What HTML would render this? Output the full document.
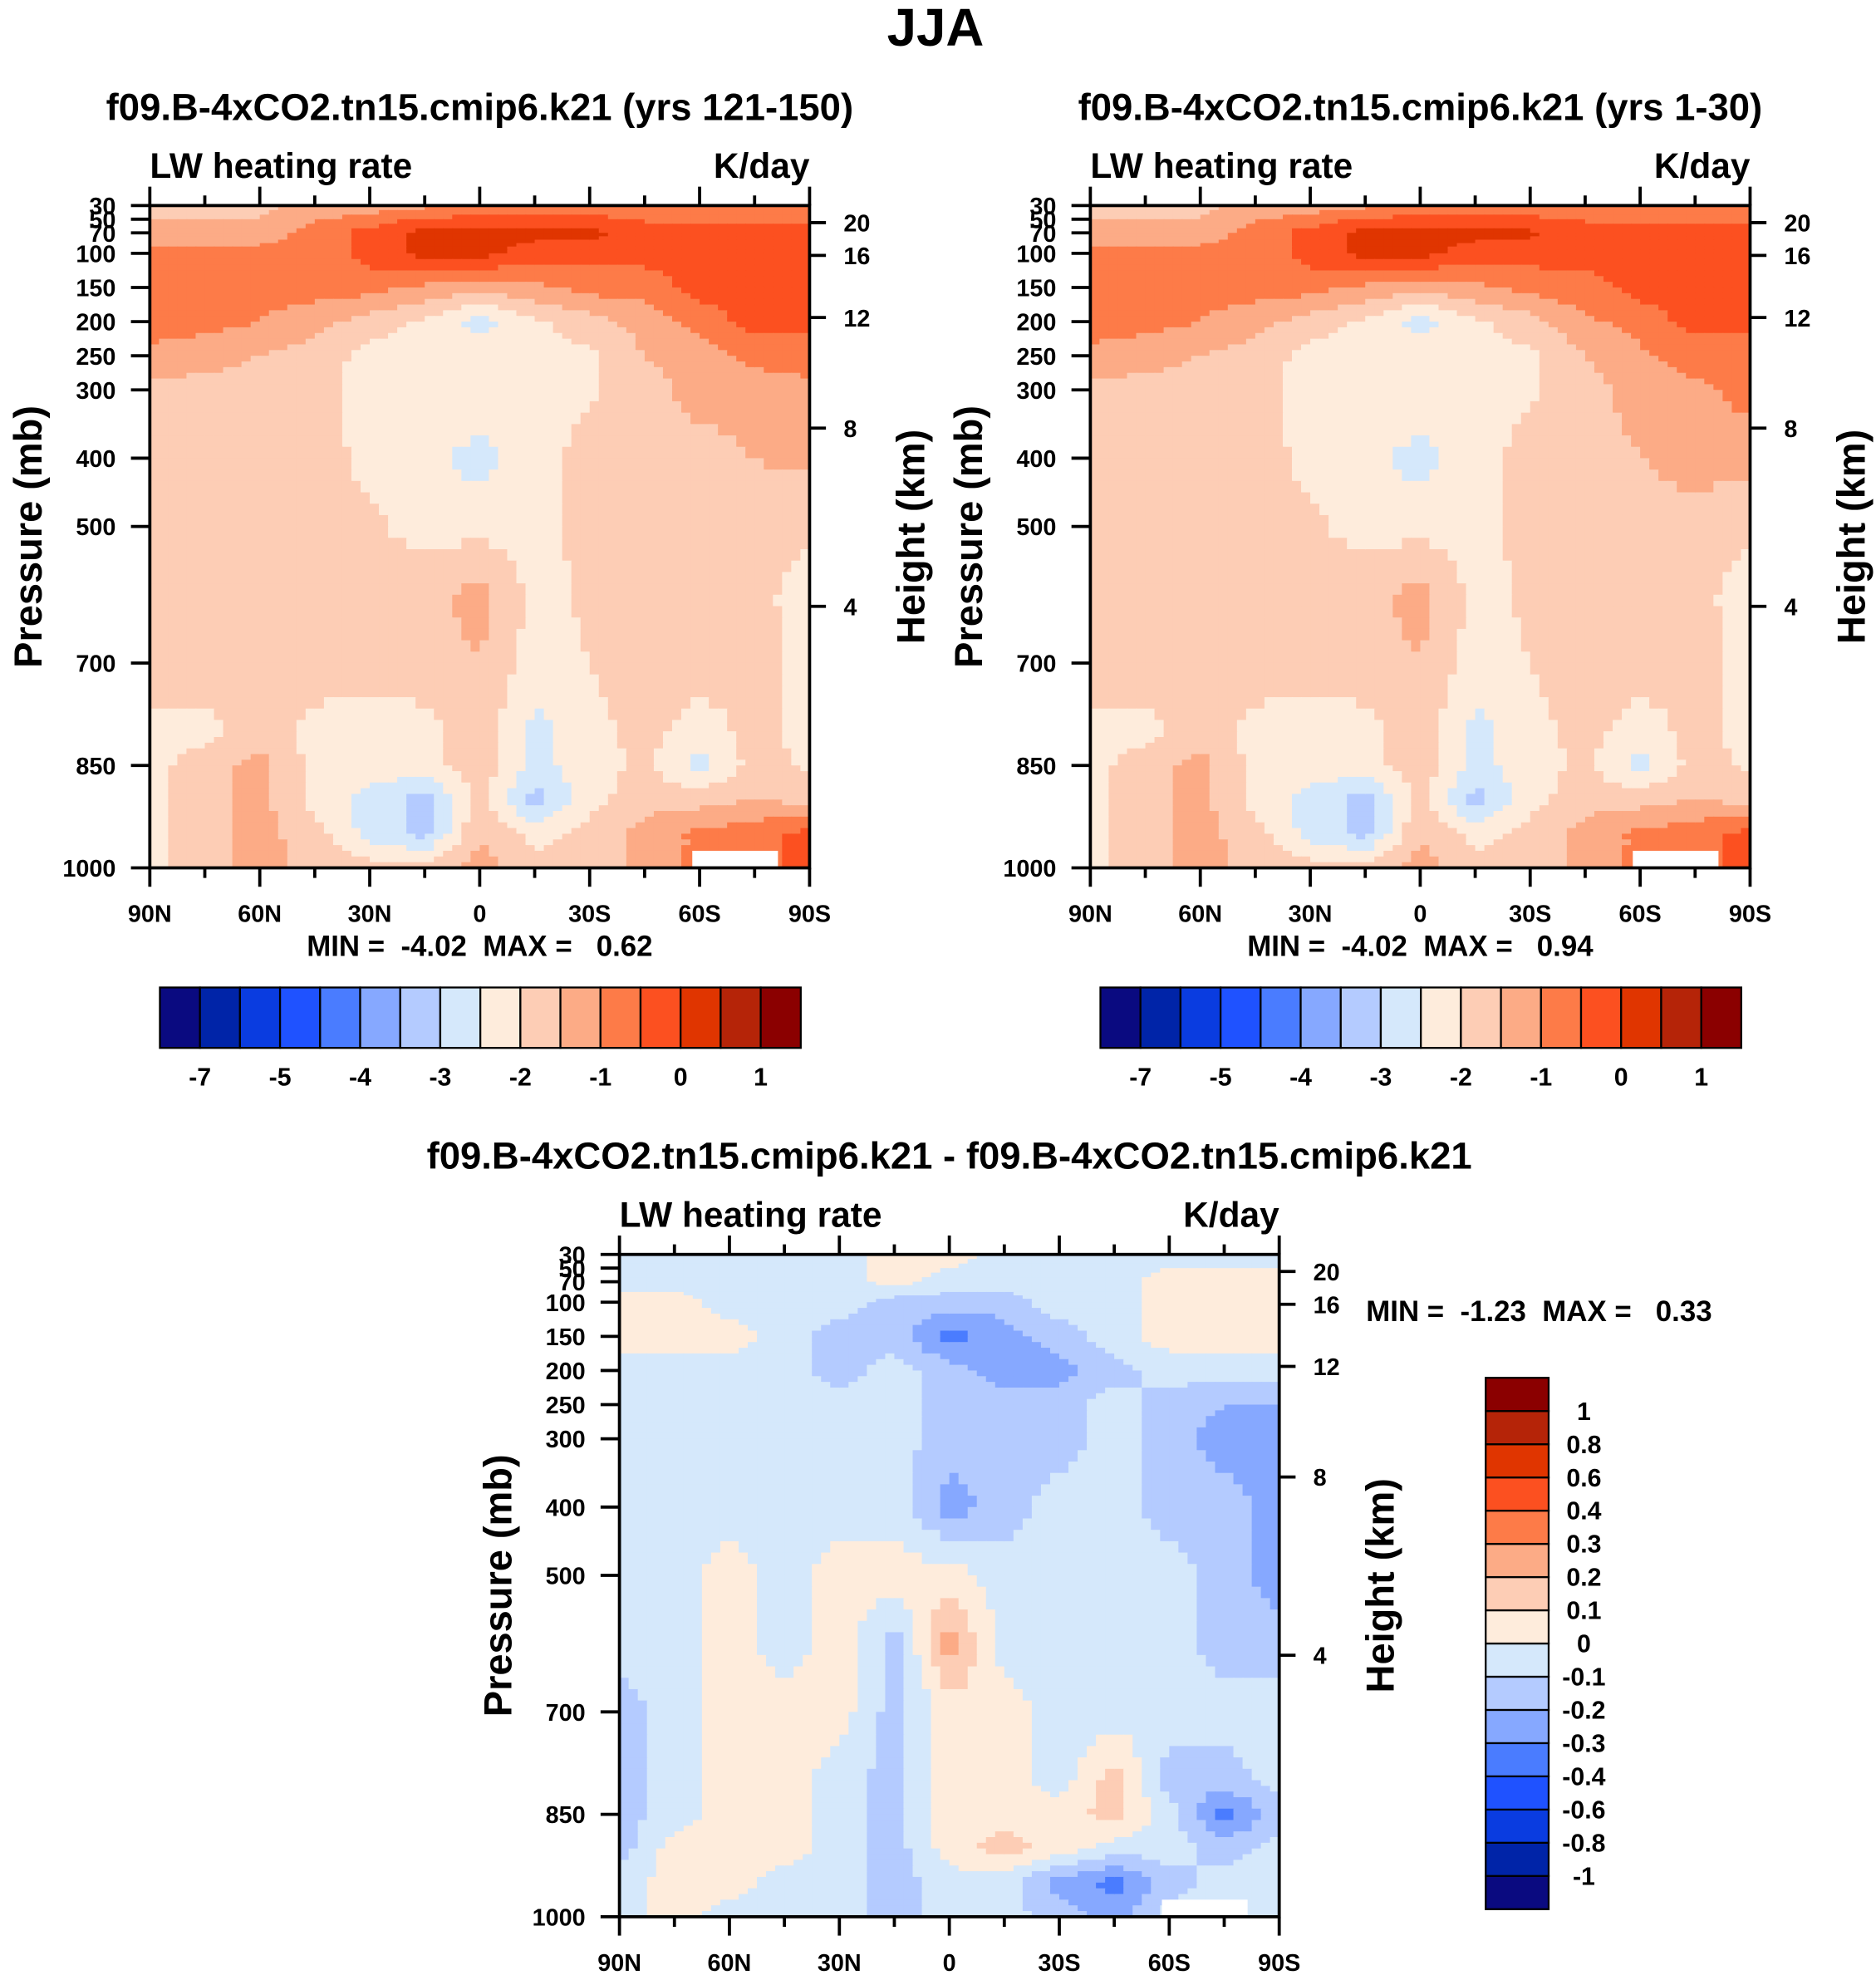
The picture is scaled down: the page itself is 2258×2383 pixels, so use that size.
<!DOCTYPE html>
<html><head><meta charset="utf-8"><style>
html,body{margin:0;padding:0;background:#fff;}
svg{display:block;}
text{font-family:"Liberation Sans",Arial,sans-serif;font-weight:bold;fill:#000;white-space:pre;}
</style></head><body>
<svg id="root" xmlns="http://www.w3.org/2000/svg" width="2258" height="2383" viewBox="0 0 1490 1572">
<rect width="1490" height="1572" fill="#fff"/>
<text x="743" y="36" font-size="42" text-anchor="middle">JJA</text>
</svg>
<script>
// ---------- data ----------
const lats = [90,75,60,45,30,15,0,-15,-30,-45,-60,-75,-90];
const pressures = [30,70,100,150,200,250,300,400,500,600,700,800,850,900,950,1000];
const mainLevels = [-7,-6,-5,-4.5,-4,-3.5,-3,-2.5,-2,-1.5,-1,-0.5,0,0.5,1];
const mainColors = ["#0a0a80","#0024a8","#0a3ce0","#1f52ff","#4a7cff","#86a8ff","#b4cbff","#d5e8fb","#feecdc","#fdcdb5","#fcab86","#fd7b48","#fc5020","#e03500","#b52408","#8b0000"];
const mainTicks = [-7,-5,-4,-3,-2,-1,0,1];
const diffLevels = [-1,-0.8,-0.6,-0.4,-0.3,-0.2,-0.1,0,0.1,0.2,0.3,0.4,0.6,0.8,1];
const diffColors = mainColors;
const diffTicks = [-1,-0.8,-0.6,-0.4,-0.3,-0.2,-0.1,0,0.1,0.2,0.3,0.4,0.6,0.8,1];
const heightTicks = [20,16,12,8,4];
const heightPress = [55,103,194,356,617];
const lonLabels = ["90N","60N","30N","0","30S","60S","90S"];
const field1 = [
[-1.7,-1.7,-1.7,-1.3,-1.3,-1.1,-0.9,-0.9,-0.9,-0.8,-0.8,-0.8,-0.8],
[-1.3,-1.3,-1.3,-0.8,-0.3,0.2,0.2,0.2,0.2,-0.3,-0.3,-0.3,-0.3],
[-0.8,-0.8,-0.8,-0.8,-0.3,0.2,0.2,-0.3,-0.3,-0.3,-0.3,-0.3,-0.3],
[-0.8,-0.8,-0.8,-0.8,-0.8,-1.1,-1.3,-1.1,-0.8,-0.8,-0.3,-0.3,-0.3],
[-0.8,-0.8,-1.0,-1.3,-1.7,-2.1,-2.7,-2.1,-1.7,-1.3,-0.8,-0.3,-0.3],
[-1.1,-1.3,-1.5,-1.7,-2.2,-2.2,-2.2,-2.2,-2.1,-1.5,-1.3,-0.8,-0.8],
[-1.7,-1.7,-1.7,-1.8,-2.2,-2.2,-2.2,-2.2,-2.1,-1.7,-1.3,-1.3,-1.1],
[-1.7,-1.7,-1.7,-1.7,-2.2,-2.3,-2.7,-2.2,-1.8,-1.7,-1.7,-1.5,-1.4],
[-1.7,-1.7,-1.7,-1.7,-1.9,-2.2,-2.2,-2.2,-1.8,-1.7,-1.7,-1.7,-1.9],
[-1.7,-1.7,-1.7,-1.7,-1.8,-1.7,-1.3,-2.2,-1.9,-1.7,-1.7,-1.8,-2.3],
[-1.7,-1.7,-1.7,-1.7,-1.8,-1.7,-1.5,-2.2,-2.0,-1.7,-1.7,-1.8,-2.2],
[-2.2,-2.2,-1.7,-2.2,-2.2,-2.2,-1.7,-2.7,-2.2,-1.8,-2.3,-1.8,-2.2],
[-2.2,-1.7,-1.3,-2.2,-2.2,-2.2,-1.7,-2.7,-2.2,-1.9,-2.7,-1.8,-2.1],
[-2.2,-1.7,-1.3,-2.2,-2.7,-3.2,-1.8,-3.2,-2.2,-1.7,-1.7,-1.5,-1.7],
[-2.2,-1.7,-1.3,-1.8,-2.7,-3.2,-1.5,-2.2,-1.8,-1.3,-0.9,-0.7,-0.3],
[-2.2,-1.7,-1.3,-1.7,-1.8,-1.8,-1.3,-1.8,-1.8,-1.3,-0.9,-0.7,-0.3]];
const field2 = [
[-1.7,-1.7,-1.7,-1.3,-1.3,-1.1,-0.9,-0.9,-0.9,-0.8,-0.8,-0.8,-0.8],
[-1.3,-1.3,-1.3,-0.8,-0.3,0.2,0.2,0.2,0.1,-0.3,-0.3,-0.3,-0.3],
[-0.8,-0.8,-0.8,-0.8,-0.3,0.2,0.2,-0.3,-0.3,-0.3,-0.3,-0.3,-0.3],
[-0.8,-0.8,-0.8,-0.8,-0.8,-1.1,-1.3,-1.1,-0.8,-0.7,-0.3,-0.3,-0.3],
[-0.8,-0.8,-1.0,-1.3,-1.7,-2.1,-2.7,-2.1,-1.7,-1.1,-0.8,-0.3,-0.3],
[-1.1,-1.3,-1.5,-1.7,-2.2,-2.2,-2.2,-2.2,-2.1,-1.5,-1.1,-0.8,-0.8],
[-1.7,-1.7,-1.7,-1.8,-2.2,-2.2,-2.2,-2.2,-2.1,-1.7,-1.3,-1.1,-0.8],
[-1.7,-1.7,-1.7,-1.7,-2.2,-2.3,-2.7,-2.2,-1.8,-1.7,-1.5,-1.3,-1.3],
[-1.7,-1.7,-1.7,-1.7,-1.9,-2.2,-2.2,-2.2,-1.8,-1.7,-1.7,-1.7,-1.9],
[-1.7,-1.7,-1.7,-1.7,-1.8,-1.7,-1.3,-2.2,-1.9,-1.7,-1.7,-1.8,-2.3],
[-1.7,-1.7,-1.7,-1.7,-1.8,-1.7,-1.5,-2.2,-2.0,-1.7,-1.7,-1.8,-2.2],
[-2.2,-2.2,-1.7,-2.2,-2.2,-2.2,-1.7,-2.7,-2.2,-1.8,-2.3,-1.8,-2.2],
[-2.2,-1.7,-1.3,-2.2,-2.2,-2.2,-1.7,-2.7,-2.2,-1.9,-2.7,-1.8,-2.1],
[-2.2,-1.7,-1.3,-2.2,-2.7,-3.2,-1.8,-3.2,-2.2,-1.7,-1.7,-1.5,-1.7],
[-2.2,-1.7,-1.3,-1.8,-2.7,-3.2,-1.5,-2.2,-1.8,-1.3,-0.9,-0.7,-0.3],
[-2.2,-1.7,-1.3,-1.7,-1.8,-1.8,-1.3,-1.8,-1.8,-1.3,-0.9,-0.7,-0.3]];
const field3 = [
[-0.05,-0.05,-0.05,-0.05,-0.05,0.05,0.05,-0.05,-0.05,-0.05,-0.05,-0.05,-0.05],
[-0.05,-0.05,-0.05,-0.05,-0.05,0.05,-0.05,-0.05,-0.05,-0.05,0.05,0.05,0.05],
[0.05,0.05,-0.05,-0.05,-0.05,-0.15,-0.15,-0.15,-0.05,-0.05,0.05,0.05,0.05],
[0.05,0.05,0.05,-0.05,-0.15,-0.15,-0.35,-0.25,-0.15,-0.05,0.05,0.05,0.05],
[-0.05,-0.05,-0.05,-0.05,-0.15,-0.05,-0.15,-0.25,-0.25,-0.15,-0.05,-0.05,-0.05],
[-0.05,-0.05,-0.05,-0.05,-0.05,-0.05,-0.15,-0.15,-0.15,-0.05,-0.15,-0.2,-0.2],
[-0.05,-0.05,-0.05,-0.05,-0.05,-0.05,-0.15,-0.15,-0.15,-0.05,-0.15,-0.25,-0.25],
[-0.05,-0.05,-0.05,-0.05,-0.05,-0.05,-0.25,-0.15,-0.05,-0.05,-0.15,-0.15,-0.25],
[-0.05,-0.05,0.05,-0.05,0.05,0.05,0.05,-0.05,-0.05,-0.05,-0.05,-0.15,-0.25],
[-0.05,-0.05,0.05,-0.05,0.05,-0.15,0.25,-0.05,-0.05,-0.05,-0.05,-0.15,-0.15],
[-0.15,-0.05,0.05,0.05,0.05,-0.15,0.05,0.05,-0.05,-0.05,-0.05,-0.05,-0.05],
[-0.15,-0.05,0.05,0.05,-0.05,-0.15,0.05,0.05,-0.05,0.15,-0.15,-0.15,-0.05],
[-0.15,-0.05,0.05,0.05,-0.05,-0.15,0.05,0.05,0.05,0.15,-0.05,-0.35,-0.15],
[-0.15,0.05,0.05,0.05,-0.05,-0.15,0.05,0.15,0.05,-0.05,-0.05,-0.15,-0.05],
[-0.05,0.05,0.05,-0.05,-0.05,-0.15,-0.05,-0.05,-0.25,-0.35,-0.15,-0.05,-0.05],
[-0.05,0.05,-0.05,-0.05,-0.05,-0.15,-0.05,-0.05,-0.15,-0.25,-0.05,-0.05,-0.05]];

// ---------- rendering ----------
const NS="http://www.w3.org/2000/svg";
const root=document.getElementById('root');
function mk(tag,attrs,parent){const e=document.createElementNS(NS,tag);for(const k in attrs)e.setAttribute(k,attrs[k]);(parent||root).appendChild(e);return e;}
function txt(x,y,s,size,anchor,parent){const t=mk('text',{x:x,y:y,'font-size':size,'text-anchor':anchor||'middle'},parent);t.textContent=s;return t;}
function colorOf(v,levels,colors){let i=0;while(i<levels.length&&v>=levels[i])i++;return colors[i];}

function panel(px,py,field,levels,colors,title,name,minmax){
  const W=524,H=526;
  const g=mk('g',{});
  
  
  const xs=lat=>px+(90-lat)/180*W;
  const ys=p=>py+(p-30)/970*H;
  const plot=mk('g',{},g);
  
  
  const SX=6,SY=6;
  for(let r=0;r<pressures.length-1;r++){
    for(let c=0;c<lats.length-1;c++){
      for(let a=0;a<SY;a++){for(let b=0;b<SX;b++){
        const fy=(a+0.5)/SY,fx=(b+0.5)/SX;
        const v=field[r][c]*(1-fx)*(1-fy)+field[r][c+1]*fx*(1-fy)+field[r+1][c]*(1-fx)*fy+field[r+1][c+1]*fx*fy;
        const p0=pressures[r]+(pressures[r+1]-pressures[r])*a/SY,p1=pressures[r]+(pressures[r+1]-pressures[r])*(a+1)/SY;
        const l0=lats[c]+(lats[c+1]-lats[c])*b/SX,l1=lats[c]+(lats[c+1]-lats[c])*(b+1)/SX;
        const x0=xs(l0),x1=xs(l1),y0=ys(p0),y1=ys(p1);
        const cell=mk('rect',{x:x0.toFixed(2),y:y0.toFixed(2),width:(x1-x0+0.6).toFixed(2),height:(y1-y0+0.6).toFixed(2),fill:colorOf(v,levels,colors)},plot);
        
        
      }}
    }
  }
  const m=mk('rect',{x:xs(-58),y:ys(975),width:xs(-80)-xs(-58)+4,height:ys(1000)-ys(975),fill:'#fff'},g);
  
  
  const fr=mk('rect',{x:px,y:py,width:W,height:H,fill:'none',stroke:'#000','stroke-width':2.5},g);
  
  
  const pt=[30,50,70,100,150,200,250,300,400,500,700,850,1000];
  pt.forEach(p=>{mk('line',{x1:px-15,x2:px,y1:ys(p),y2:ys(p),stroke:'#000','stroke-width':2.5},g);
    const t=txt(px-27,ys(p)+7,String(p),19,'end',g);});
  heightTicks.forEach((h,i)=>{const y=ys(heightPress[i]);mk('line',{x1:px+W,x2:px+W+13,y1:y,y2:y,stroke:'#000','stroke-width':2.5},g);
    const t=txt(px+W+27,y+7,String(h),19,'start',g);});
  for(let k=0;k<=12;k++){const x=px+k*W/12;const len=(k%2===0)?15:8;
    mk('line',{x1:x,x2:x,y1:py-len,y2:py,stroke:'#000','stroke-width':2.5},g);
    mk('line',{x1:x,x2:x,y1:py+H,y2:py+H+len,stroke:'#000','stroke-width':2.5},g);}
  lonLabels.forEach((s,i)=>{const t=txt(px+i*W/6,py+H+43,s,19,'middle',g);});
  let t=txt(px+W/2,py-68,title,30,'middle',g);
  t=txt(px,py-22,'LW heating rate',28,'start',g);
  t=txt(px+W,py-22,'K/day',28,'end',g);
  t=mk('text',{x:0,y:0,'font-size':31,'text-anchor':'middle',transform:`translate(${px-86},${py+263}) rotate(-90)`},g);t.textContent='Pressure (mb)';
  
  t=mk('text',{x:0,y:0,'font-size':31,'text-anchor':'middle',transform:`translate(${px+W+91},${py+263}) rotate(-90)`},g);t.textContent='Height (km)';
  
  if(minmax){t=txt(px+W/2,py+H+70,minmax,23,'middle',g);}
}

function hbar(x,y,w,h,levels,colors,ticks,name){
  const g=mk('g',{});
  
  
  const n=colors.length,bw=w/n;
  colors.forEach((c,i)=>{const r=mk('rect',{x:x+i*bw,y:y,width:bw,height:h,fill:c,stroke:'#000','stroke-width':1.5},g);
    });
  ticks.forEach(v=>{const i=levels.indexOf(v);const t=txt(x+(i+1)*bw,y+h+30,String(v),20,'middle',g);
    });
}
function vbar(x,y,w,h,levels,colors,ticks,name){
  const g=mk('g',{});
  
  
  const n=colors.length,bh=h/n;
  colors.forEach((c,i)=>{const r=mk('rect',{x:x,y:y+h-(i+1)*bh,width:w,height:bh,fill:c,stroke:'#000','stroke-width':1.5},g);
    });
  ticks.forEach(v=>{const i=levels.indexOf(v);const t=txt(x+w+28,y+h-(i+1)*bh+7,String(v),20,'middle',g);
    });
}

panel(119,163,field1,mainLevels,mainColors,'f09.B-4xCO2.tn15.cmip6.k21 (yrs 121-150)','panel-yrs-121-150','MIN =  -4.02  MAX =   0.62');
panel(866,163,field2,mainLevels,mainColors,'f09.B-4xCO2.tn15.cmip6.k21 (yrs 1-30)','panel-yrs-1-30','MIN =  -4.02  MAX =   0.94');
panel(492,996,field3,diffLevels,diffColors,'f09.B-4xCO2.tn15.cmip6.k21 - f09.B-4xCO2.tn15.cmip6.k21','panel-difference',null);
hbar(127,784,509,48,mainLevels,mainColors,mainTicks,'colorbar-panel-1');
hbar(874,784,509,48,mainLevels,mainColors,mainTicks,'colorbar-panel-2');
vbar(1180,1094,50,422,diffLevels,diffColors,diffTicks,'colorbar-difference');
const mm=txt(1085,1049,'MIN =  -1.23  MAX =   0.33',23,'start');


</script>
</body></html>
